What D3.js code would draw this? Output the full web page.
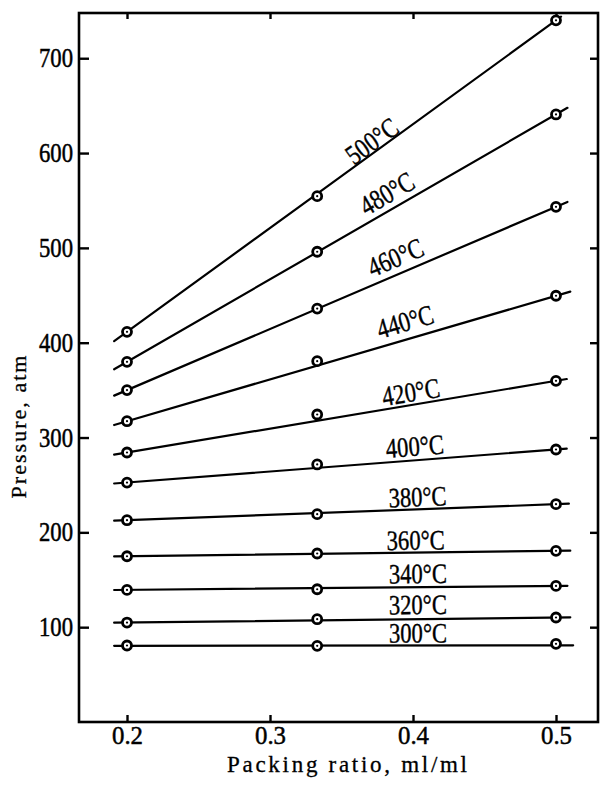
<!DOCTYPE html>
<html>
<head>
<meta charset="utf-8">
<script src="https://cdn.jsdelivr.net/npm/d3@7"></script>
<style>
  html, body { margin: 0; padding: 0; background: #fff; }
  svg { display: block; }
  text { font-family: "Liberation Serif", "Times New Roman", serif; fill: #000; }
</style>
</head>
<body>
<div id="chart"></div>
<script>
// ---------- data ----------
const temperatures = ["300°C", "320°C", "340°C", "360°C", "380°C", "400°C", "420°C", "440°C", "460°C", "480°C", "500°C"];
const packingRatios = [0.2, 0.333, 0.5];
const p300 = [80.7, 80.3, 82.4];
const p320 = [104.9, 108.4, 110.2];
const p340 = [139.3, 140.0, 143.5];
const p360 = [174.8, 177.7, 180.5];
const p380 = [212.8, 219.2, 229.7];
const p400 = [252.5, 271.6, 287.4];
const p420 = [284.2, 324.3, 359.8];
const p440 = [317.2, 380.5, 449.5];
const p460 = [350.0, 436.0, 543.3];
const p480 = [379.8, 495.9, 640.7];
const p500 = [411.5, 554.5, 740.0];
const pressures = [p300, p320, p340, p360, p380, p400, p420, p440, p460, p480, p500];
// drawn straight lines (start / end in data units)
const lineStartX = 0.191;
const lineEndX = [0.512, 0.510, 0.508, 0.510, 0.509, 0.5075, 0.5075, 0.510, 0.508, 0.508, 0.5035];
const lineStartP = [80.3, 104.7, 139.2, 174.6, 212.3, 251.5, 281.9, 313.2, 344.2, 372.0, 401.6];
const lineEndP = [80.9, 110.4, 143.6, 180.7, 230.2, 288.3, 361.7, 453.9, 548.5, 647.7, 743.8];
const xTicks = [0.2, 0.3, 0.4, 0.5];
const yTicks = [100, 200, 300, 400, 500, 600, 700];
const xTitle = "Packing  ratio,  ml/ml";
const yTitle = "Pressure, atm";

// ---------- layout ----------
const W = 603, H = 786;
const M = { left: 79, right: 5, top: 13, bottom: 64 };
const labelAt = [0.4035, 0.4035, 0.4035, 0.402, 0.4035, 0.402, 0.400, 0.3979, 0.3923, 0.3874, 0.3755];
const labelGap = [3, 5, 4, 3, 3, 4.5, 3.3, 8, 7, 6.5, 1];

const svg = d3.select("#chart").append("svg").attr("width", W).attr("height", H);
svg.append("rect").attr("width", W).attr("height", H).attr("fill", "#fff");

const x = d3.scaleLinear().domain([0.16643, 0.52937]).range([M.left, W - M.right]);
const y = d3.scaleLinear().domain([0, 747.7]).range([H - M.bottom, M.top]);

const g = svg.append("g");

// axes
const fmtX = d3.format(".1f");
const axB = g.append("g").attr("transform", `translate(0,${H - M.bottom})`)
  .call(d3.axisBottom(x).tickValues(xTicks).tickFormat(fmtX).tickSizeInner(-7).tickSizeOuter(0).tickPadding(4));
const axL = g.append("g").attr("transform", `translate(${M.left},0)`)
  .call(d3.axisLeft(y).tickValues(yTicks).tickSizeInner(-10).tickSizeOuter(0).tickPadding(6));
const axT = g.append("g").attr("transform", `translate(0,${M.top})`)
  .call(d3.axisTop(x).tickValues(xTicks).tickFormat("").tickSizeInner(-6).tickSizeOuter(0));
const axR = g.append("g").attr("transform", `translate(${W - M.right},0)`)
  .call(d3.axisRight(y).tickValues(yTicks).tickFormat("").tickSizeInner(-8).tickSizeOuter(0));

[axB, axL, axT, axR].forEach(a => {
  a.select(".domain").remove();
  a.selectAll(".tick line").attr("stroke", "#000").attr("stroke-width", 2.4);
});
axB.selectAll(".tick text").attr("font-size", 26).attr("font-family", "Liberation Serif")
  .attr("textLength", 31).attr("lengthAdjust", "spacingAndGlyphs").attr("fill", "#000")
  .attr("stroke", "#000").attr("stroke-width", 0.5);
axL.selectAll(".tick text").attr("font-size", 27).attr("font-family", "Liberation Serif")
  .attr("textLength", 34).attr("lengthAdjust", "spacingAndGlyphs").attr("fill", "#000")
  .attr("stroke", "#000").attr("stroke-width", 0.5);

// frame
g.append("rect")
  .attr("x", x.range()[0]).attr("y", y.range()[1])
  .attr("width", x.range()[1] - x.range()[0]).attr("height", y.range()[0] - y.range()[1])
  .attr("fill", "none").attr("stroke", "#000").attr("stroke-width", 2.6);

// lines
const series = temperatures.map((t, i) => ({
  name: t,
  pts: packingRatios.map((r, j) => ({ r, p: pressures[i][j] })),
  x0: lineStartX, x1: lineEndX[i], p0: lineStartP[i], p1: lineEndP[i],
  labelAt: labelAt[i], gap: labelGap[i]
}));

g.selectAll("line.fit").data(series).join("line").attr("class", "fit")
  .attr("x1", d => x(d.x0)).attr("y1", d => y(d.p0))
  .attr("x2", d => x(d.x1)).attr("y2", d => y(d.p1))
  .attr("stroke", "#000").attr("stroke-width", 2.2).attr("stroke-linecap", "round");

// markers
const pts = series.flatMap(s => s.pts);
g.selectAll("circle.m").data(pts).join("circle").attr("class", "m")
  .attr("cx", d => x(d.r)).attr("cy", d => y(d.p)).attr("r", 4.5)
  .attr("fill", "#fff").attr("stroke", "#000").attr("stroke-width", 2.8);
g.selectAll("circle.dot").data(pts).join("circle").attr("class", "dot")
  .attr("cx", d => x(d.r)).attr("cy", d => y(d.p)).attr("r", 1.1).attr("fill", "#000");

// labels
g.selectAll("text.lbl").data(series).join("text").attr("class", "lbl")
  .attr("transform", d => {
    const ang = Math.atan2(y(d.p1) - y(d.p0), x(d.x1) - x(d.x0)) * 180 / Math.PI;
    const pAt = d.p0 + (d.p1 - d.p0) * (d.labelAt - d.x0) / (d.x1 - d.x0);
    return `translate(${x(d.labelAt)},${y(pAt)}) rotate(${ang})`;
  })
  .attr("y", d => -d.gap)
  .attr("text-anchor", "middle")
  .attr("font-size", 28)
  .attr("stroke", "#000").attr("stroke-width", 0.4)
  .attr("textLength", 58).attr("lengthAdjust", "spacingAndGlyphs")
  .text(d => d.name);

// axis titles
svg.append("text").attr("x", 347).attr("y", 772).attr("text-anchor", "middle")
  .attr("font-size", 23).attr("textLength", 240).attr("lengthAdjust", "spacing")
  .attr("stroke", "#000").attr("stroke-width", 0.3)
  .text(xTitle);
svg.append("text").attr("transform", "translate(26,427) rotate(-90)").attr("text-anchor", "middle")
  .attr("font-size", 22).attr("textLength", 143).attr("lengthAdjust", "spacing")
  .attr("stroke", "#000").attr("stroke-width", 0.3)
  .text(yTitle);
</script>
</body>
</html>
